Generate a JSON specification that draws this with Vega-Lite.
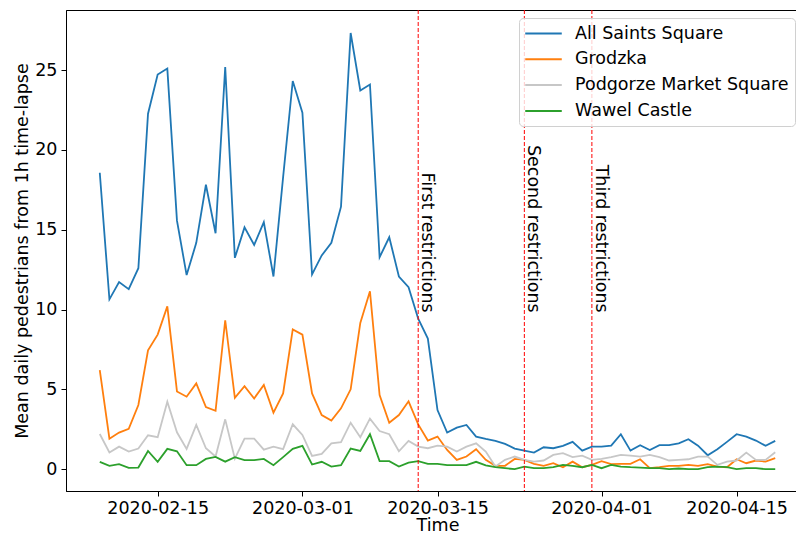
{
  "$schema": "https://vega.github.io/schema/vega-lite/v6.json",
  "width": 743,
  "height": 481,
  "autosize": {"type": "none"},
  "padding": {"left": 66, "top": 10, "right": 0, "bottom": 42},
  "background": "white",
  "config": {
    "font": "DejaVu Sans",
    "view": {"stroke": "black", "strokeWidth": 1},
    "axis": {
      "labelFont": "DejaVu Sans", "labelFontSize": 17.5, "labelColor": "black",
      "titleFont": "DejaVu Sans", "titleFontSize": 17.5, "titleFontWeight": "normal", "titleColor": "black",
      "tickColor": "black", "domainColor": "black", "tickSize": 5, "grid": false, "labelPadding": 4
    },
    "axisX": {"labelAngle": 0, "labelFlush": false, "labelPadding": 3, "titlePadding": 0},
    "axisY": {"titlePadding": 3},
    "legend": {
      "orient": "none", "legendX": 453, "legendY": 8,
      "symbolType": "M-2.15,0H2.15", "symbolSize": 289, "symbolStrokeWidth": 2,
      "symbolOffset": 9, "labelOffset": 22,
      "labelFont": "DejaVu Sans", "labelFontSize": 17.5, "labelColor": "black", "labelLimit": 400,
      "rowPadding": 7.8, "padding": 6,
      "fillColor": "rgba(255,255,255,0.8)", "strokeColor": "#d0d0d0", "cornerRadius": 4
    }
  },
  "datasets": {
    "counts": [
      {"date": "2020-02-09", "All Saints Square": 18.57, "Grodzka": 6.2, "Podgorze Market Square": 2.2, "Wawel Castle": 0.46},
      {"date": "2020-02-10", "All Saints Square": 10.64, "Grodzka": 1.91, "Podgorze Market Square": 1.04, "Wawel Castle": 0.21},
      {"date": "2020-02-11", "All Saints Square": 11.72, "Grodzka": 2.29, "Podgorze Market Square": 1.41, "Wawel Castle": 0.31},
      {"date": "2020-02-12", "All Saints Square": 11.28, "Grodzka": 2.52, "Podgorze Market Square": 1.1, "Wawel Castle": 0.08},
      {"date": "2020-02-13", "All Saints Square": 12.59, "Grodzka": 4.02, "Podgorze Market Square": 1.29, "Wawel Castle": 0.1},
      {"date": "2020-02-14", "All Saints Square": 22.27, "Grodzka": 7.45, "Podgorze Market Square": 2.12, "Wawel Castle": 1.14},
      {"date": "2020-02-15", "All Saints Square": 24.73, "Grodzka": 8.43, "Podgorze Market Square": 2.0, "Wawel Castle": 0.46},
      {"date": "2020-02-16", "All Saints Square": 25.1, "Grodzka": 10.2, "Podgorze Market Square": 4.22, "Wawel Castle": 1.27},
      {"date": "2020-02-17", "All Saints Square": 15.57, "Grodzka": 4.87, "Podgorze Market Square": 2.31, "Wawel Castle": 1.12},
      {"date": "2020-02-18", "All Saints Square": 12.16, "Grodzka": 4.54, "Podgorze Market Square": 1.27, "Wawel Castle": 0.25},
      {"date": "2020-02-19", "All Saints Square": 14.18, "Grodzka": 5.37, "Podgorze Market Square": 2.77, "Wawel Castle": 0.25},
      {"date": "2020-02-20", "All Saints Square": 17.82, "Grodzka": 3.89, "Podgorze Market Square": 1.31, "Wawel Castle": 0.64},
      {"date": "2020-02-21", "All Saints Square": 14.78, "Grodzka": 3.66, "Podgorze Market Square": 0.79, "Wawel Castle": 0.77},
      {"date": "2020-02-22", "All Saints Square": 25.2, "Grodzka": 9.33, "Podgorze Market Square": 3.12, "Wawel Castle": 0.47},
      {"date": "2020-02-23", "All Saints Square": 13.24, "Grodzka": 4.47, "Podgorze Market Square": 0.66, "Wawel Castle": 0.75},
      {"date": "2020-02-24", "All Saints Square": 15.15, "Grodzka": 5.2, "Podgorze Market Square": 1.91, "Wawel Castle": 0.56},
      {"date": "2020-02-25", "All Saints Square": 14.05, "Grodzka": 4.43, "Podgorze Market Square": 1.91, "Wawel Castle": 0.56},
      {"date": "2020-02-26", "All Saints Square": 15.47, "Grodzka": 5.27, "Podgorze Market Square": 1.22, "Wawel Castle": 0.64},
      {"date": "2020-02-27", "All Saints Square": 12.07, "Grodzka": 3.54, "Podgorze Market Square": 1.41, "Wawel Castle": 0.25},
      {"date": "2020-02-28", "All Saints Square": 18.3, "Grodzka": 4.74, "Podgorze Market Square": 1.25, "Wawel Castle": 0.75},
      {"date": "2020-02-29", "All Saints Square": 24.32, "Grodzka": 8.76, "Podgorze Market Square": 2.81, "Wawel Castle": 1.27},
      {"date": "2020-03-01", "All Saints Square": 22.34, "Grodzka": 8.43, "Podgorze Market Square": 2.14, "Wawel Castle": 1.46},
      {"date": "2020-03-02", "All Saints Square": 12.2, "Grodzka": 4.74, "Podgorze Market Square": 0.83, "Wawel Castle": 0.29},
      {"date": "2020-03-03", "All Saints Square": 13.39, "Grodzka": 3.39, "Podgorze Market Square": 0.96, "Wawel Castle": 0.46},
      {"date": "2020-03-04", "All Saints Square": 14.18, "Grodzka": 3.04, "Podgorze Market Square": 1.62, "Wawel Castle": 0.16},
      {"date": "2020-03-05", "All Saints Square": 16.45, "Grodzka": 3.81, "Podgorze Market Square": 1.69, "Wawel Castle": 0.25},
      {"date": "2020-03-06", "All Saints Square": 27.33, "Grodzka": 5.0, "Podgorze Market Square": 2.91, "Wawel Castle": 1.29},
      {"date": "2020-03-07", "All Saints Square": 23.73, "Grodzka": 9.16, "Podgorze Market Square": 2.0, "Wawel Castle": 1.14},
      {"date": "2020-03-08", "All Saints Square": 24.1, "Grodzka": 11.14, "Podgorze Market Square": 3.16, "Wawel Castle": 2.19},
      {"date": "2020-03-09", "All Saints Square": 13.28, "Grodzka": 4.64, "Podgorze Market Square": 2.39, "Wawel Castle": 0.5},
      {"date": "2020-03-10", "All Saints Square": 14.53, "Grodzka": 2.91, "Podgorze Market Square": 2.19, "Wawel Castle": 0.5},
      {"date": "2020-03-11", "All Saints Square": 12.07, "Grodzka": 3.39, "Podgorze Market Square": 1.12, "Wawel Castle": 0.16},
      {"date": "2020-03-12", "All Saints Square": 11.4, "Grodzka": 4.25, "Podgorze Market Square": 1.77, "Wawel Castle": 0.41},
      {"date": "2020-03-13", "All Saints Square": 9.43, "Grodzka": 2.8, "Podgorze Market Square": 1.41, "Wawel Castle": 0.5},
      {"date": "2020-03-14", "All Saints Square": 8.18, "Grodzka": 1.79, "Podgorze Market Square": 1.31, "Wawel Castle": 0.33},
      {"date": "2020-03-15", "All Saints Square": 3.7, "Grodzka": 2.04, "Podgorze Market Square": 1.47, "Wawel Castle": 0.33},
      {"date": "2020-03-16", "All Saints Square": 2.29, "Grodzka": 1.2, "Podgorze Market Square": 1.41, "Wawel Castle": 0.25},
      {"date": "2020-03-17", "All Saints Square": 2.6, "Grodzka": 0.58, "Podgorze Market Square": 1.1, "Wawel Castle": 0.25},
      {"date": "2020-03-18", "All Saints Square": 2.77, "Grodzka": 0.79, "Podgorze Market Square": 1.41, "Wawel Castle": 0.25},
      {"date": "2020-03-19", "All Saints Square": 2.04, "Grodzka": 1.25, "Podgorze Market Square": 1.62, "Wawel Castle": 0.46},
      {"date": "2020-03-20", "All Saints Square": 1.89, "Grodzka": 0.58, "Podgorze Market Square": 1.1, "Wawel Castle": 0.23},
      {"date": "2020-03-21", "All Saints Square": 1.77, "Grodzka": 0.21, "Podgorze Market Square": 0.16, "Wawel Castle": 0.12},
      {"date": "2020-03-22", "All Saints Square": 1.58, "Grodzka": 0.21, "Podgorze Market Square": 0.58, "Wawel Castle": 0.06},
      {"date": "2020-03-23", "All Saints Square": 1.29, "Grodzka": 0.64, "Podgorze Market Square": 0.79, "Wawel Castle": 0.0},
      {"date": "2020-03-24", "All Saints Square": 1.16, "Grodzka": 0.58, "Podgorze Market Square": 0.58, "Wawel Castle": 0.16},
      {"date": "2020-03-25", "All Saints Square": 1.04, "Grodzka": 0.33, "Podgorze Market Square": 0.47, "Wawel Castle": 0.06},
      {"date": "2020-03-26", "All Saints Square": 1.37, "Grodzka": 0.21, "Podgorze Market Square": 0.54, "Wawel Castle": 0.06},
      {"date": "2020-03-27", "All Saints Square": 1.31, "Grodzka": 0.37, "Podgorze Market Square": 0.89, "Wawel Castle": 0.12},
      {"date": "2020-03-28", "All Saints Square": 1.46, "Grodzka": 0.12, "Podgorze Market Square": 1.0, "Wawel Castle": 0.27},
      {"date": "2020-03-29", "All Saints Square": 1.71, "Grodzka": 0.47, "Podgorze Market Square": 0.75, "Wawel Castle": 0.21},
      {"date": "2020-03-30", "All Saints Square": 1.16, "Grodzka": 0.12, "Podgorze Market Square": 0.85, "Wawel Castle": 0.12},
      {"date": "2020-03-31", "All Saints Square": 1.41, "Grodzka": 0.27, "Podgorze Market Square": 0.58, "Wawel Castle": 0.27},
      {"date": "2020-04-01", "All Saints Square": 1.41, "Grodzka": 0.5, "Podgorze Market Square": 0.64, "Wawel Castle": 0.06},
      {"date": "2020-04-02", "All Saints Square": 1.47, "Grodzka": 0.31, "Podgorze Market Square": 0.75, "Wawel Castle": 0.27},
      {"date": "2020-04-03", "All Saints Square": 2.19, "Grodzka": 0.33, "Podgorze Market Square": 0.89, "Wawel Castle": 0.16},
      {"date": "2020-04-04", "All Saints Square": 1.16, "Grodzka": 0.33, "Podgorze Market Square": 0.85, "Wawel Castle": 0.12},
      {"date": "2020-04-05", "All Saints Square": 1.5, "Grodzka": 0.62, "Podgorze Market Square": 0.79, "Wawel Castle": 0.1},
      {"date": "2020-04-06", "All Saints Square": 1.2, "Grodzka": 0.06, "Podgorze Market Square": 0.89, "Wawel Castle": 0.06},
      {"date": "2020-04-07", "All Saints Square": 1.5, "Grodzka": 0.12, "Podgorze Market Square": 0.75, "Wawel Castle": 0.06},
      {"date": "2020-04-08", "All Saints Square": 1.5, "Grodzka": 0.21, "Podgorze Market Square": 0.54, "Wawel Castle": 0.0},
      {"date": "2020-04-09", "All Saints Square": 1.62, "Grodzka": 0.21, "Podgorze Market Square": 0.58, "Wawel Castle": 0.04},
      {"date": "2020-04-10", "All Saints Square": 1.87, "Grodzka": 0.27, "Podgorze Market Square": 0.62, "Wawel Castle": 0.0},
      {"date": "2020-04-11", "All Saints Square": 1.47, "Grodzka": 0.21, "Podgorze Market Square": 0.79, "Wawel Castle": 0.0},
      {"date": "2020-04-12", "All Saints Square": 0.87, "Grodzka": 0.31, "Podgorze Market Square": 0.79, "Wawel Castle": 0.12},
      {"date": "2020-04-13", "All Saints Square": 1.25, "Grodzka": 0.16, "Podgorze Market Square": 0.27, "Wawel Castle": 0.16},
      {"date": "2020-04-14", "All Saints Square": 1.71, "Grodzka": 0.12, "Podgorze Market Square": 0.47, "Wawel Castle": 0.12},
      {"date": "2020-04-15", "All Saints Square": 2.19, "Grodzka": 0.62, "Podgorze Market Square": 0.54, "Wawel Castle": 0.0},
      {"date": "2020-04-16", "All Saints Square": 2.04, "Grodzka": 0.37, "Podgorze Market Square": 1.04, "Wawel Castle": 0.06},
      {"date": "2020-04-17", "All Saints Square": 1.79, "Grodzka": 0.54, "Podgorze Market Square": 0.58, "Wawel Castle": 0.06},
      {"date": "2020-04-18", "All Saints Square": 1.46, "Grodzka": 0.47, "Podgorze Market Square": 0.58, "Wawel Castle": 0.0},
      {"date": "2020-04-19", "All Saints Square": 1.77, "Grodzka": 0.69, "Podgorze Market Square": 1.06, "Wawel Castle": 0.0}
    ],
    "events": [
      {"date": "2020-03-13", "label": "First restrictions"},
      {"date": "2020-03-24", "label": "Second restrictions"},
      {"date": "2020-03-31", "label": "Third restrictions"}
    ]
  },
  "layer": [
    {
      "data": {"name": "counts"},
      "transform": [{"fold": ["All Saints Square", "Grodzka", "Podgorze Market Square", "Wawel Castle"], "as": ["location", "value"]}],
      "mark": {"type": "line", "strokeWidth": 1.8},
      "encoding": {
        "x": {
          "field": "date", "type": "temporal",
          "scale": {"type": "utc", "domain": [
            {"year": 2020, "month": 2, "date": 5, "hours": 12, "utc": true},
            {"year": 2020, "month": 4, "date": 22, "hours": 12, "utc": true}
          ]},
          "axis": {
            "title": "Time",
            "labelExpr": "utcFormat(datum.value, '%Y-%m-%d')",
            "values": [
              {"year": 2020, "month": 2, "date": 15, "utc": true},
              {"year": 2020, "month": 3, "date": 1, "utc": true},
              {"year": 2020, "month": 3, "date": 15, "utc": true},
              {"year": 2020, "month": 4, "date": 1, "utc": true},
              {"year": 2020, "month": 4, "date": 15, "utc": true}
            ]
          }
        },
        "y": {
          "field": "value", "type": "quantitative",
          "scale": {"domain": [-1.37, 28.77], "nice": false, "zero": false},
          "axis": {"title": "Mean daily pedestrians from 1h time-lapse", "values": [0, 5, 10, 15, 20, 25]}
        },
        "color": {
          "field": "location", "type": "nominal",
          "scale": {"domain": ["All Saints Square", "Grodzka", "Podgorze Market Square", "Wawel Castle"], "range": ["#1f77b4", "#ff7f0e", "#c7c7c7", "#2ca02c"]},
          "legend": {"title": null}
        }
      }
    },
    {
      "data": {"name": "events"},
      "mark": {"type": "rule", "color": "red", "strokeDash": [4, 2], "strokeWidth": 1},
      "encoding": {"x": {"field": "date", "type": "temporal"}}
    },
    {
      "data": {"name": "events"},
      "mark": {"type": "text", "angle": 90, "align": "right", "baseline": "bottom", "fontSize": 17.5, "font": "DejaVu Sans", "color": "black"},
      "encoding": {
        "x": {"field": "date", "type": "temporal"},
        "y": {"datum": 9.8},
        "text": {"field": "label"}
      }
    }
  ]
}
